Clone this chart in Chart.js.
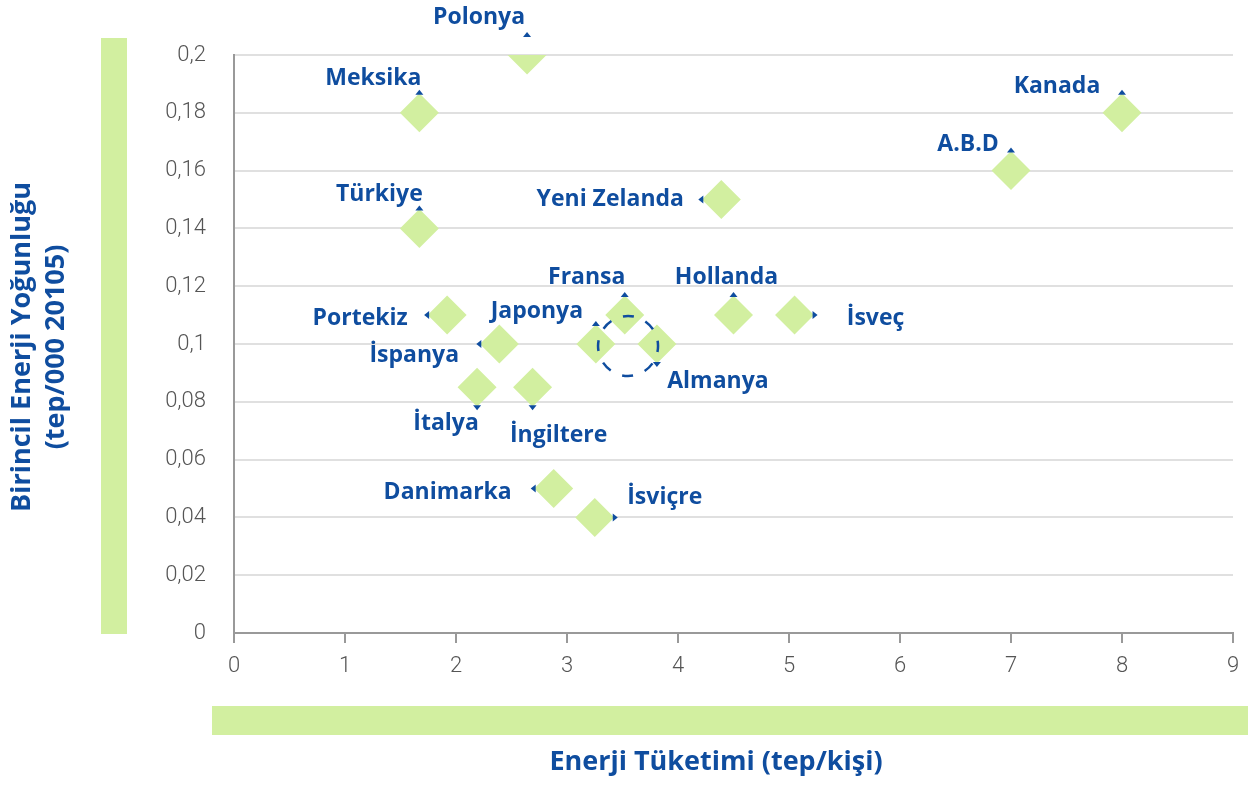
<!DOCTYPE html>
<html lang="tr">
<head>
    <meta charset="UTF-8">
    <title>Enerji Tüketimi ve Birincil Enerji Yoğunluğu</title>
    <script src="https://cdn.jsdelivr.net/npm/chart.js"></script>
    <style>
        body { margin: 0; background: #fff; }
        #wrap { width: 1253px; height: 785px; position: relative; }
    </style>
</head>
<body>
<div id="wrap"><canvas id="grafik"></canvas></div>
<script>
// ulkeler ve degerler
const ulkeler = ['Polonya', 'Meksika', 'Türkiye', 'Kanada', 'A.B.D', 'Yeni Zelanda', 'Portekiz', 'Fransa',
    'Hollanda', 'İsveç', 'Japonya', 'İspanya', 'Almanya', 'İtalya', 'İngiltere', 'Danimarka', 'İsviçre'];
const tuketim = [2.64, 1.67, 1.67, 8.0, 7.0, 4.39, 1.92, 3.52, 4.5, 5.05, 3.26, 2.39, 3.81, 2.19, 2.69, 2.88, 3.25];
const yogunluk = [0.2, 0.18, 0.14, 0.18, 0.16, 0.15, 0.11, 0.11, 0.11, 0.11, 0.1, 0.1, 0.1, 0.085, 0.085, 0.05, 0.04];
const xEtiketleri = ['0', '1', '2', '3', '4', '5', '6', '7', '8', '9'];
const yEtiketleri = ['0', '0,02', '0,04', '0,06', '0,08', '0,1', '0,12', '0,14', '0,16', '0,18', '0,2'];

// etiket yerlesimi: [dx, dy, ok yonu]
const etiketYeri = [
    [-48, -38, 'up'], [-46, -34, 'up'], [-40, -34, 'up'], [-65, -26, 'up'], [-43, -26, 'up'],
    [-111, 0, 'left'], [-87, 3, 'left'], [-38, -38, 'up'], [-7, -38, 'up'], [81, 3, 'right'],
    [-59, -33, 'up'], [-85, 11, 'left'], [61, 37, 'down'], [-31, 36, 'down'], [26, 48, 'down'],
    [-106, 4, 'left'], [70, -20, 'right']
];

const YESIL = '#d2efa0';
const MAVI = '#0f4d9f';
const FONT = '"Open Sans", "DejaVu Sans", sans-serif';
const TICKFONT = 'Roboto, "DejaVu Sans", sans-serif';

const sus = {
    id: 'sus',
    beforeDraw(chart) {
        const ctx = chart.ctx, a = chart.chartArea;
        ctx.save();
        ctx.fillStyle = YESIL;
        ctx.fillRect(101, a.top - 17, 26, a.bottom - a.top + 18);
        ctx.fillRect(212, 706, 1036, 29);
        ctx.restore();
    },
    afterDraw(chart) {
        const ctx = chart.ctx;
        const meta = chart.getDatasetMeta(0);
        ctx.save();
        // eksen basliklari
        ctx.fillStyle = MAVI;
        ctx.font = 'bold 27px ' + FONT;
        ctx.textAlign = 'center';
        ctx.textBaseline = 'middle';
        ctx.fillText('Enerji Tüketimi (tep/kişi)', 716, 762);
        ctx.save();
        ctx.translate(22, 347);
        ctx.rotate(-Math.PI / 2);
        ctx.fillText('Birincil Enerji Yoğunluğu', 0, 0);
        ctx.restore();
        ctx.save();
        ctx.translate(56, 347);
        ctx.rotate(-Math.PI / 2);
        ctx.fillText('(tep/000 20105)', 0, 0);
        ctx.restore();

        // veri etiketleri ve oklar
        ctx.font = 'bold 23px ' + FONT;
        meta.data.forEach((p, i) => {
            const [dx, dy, yon] = etiketYeri[i];
            ctx.fillStyle = MAVI;
            ctx.fillText(ulkeler[i], p.x + dx, p.y + dy);
            ctx.beginPath();
            const d = 20, s = 4;
            if (yon === 'up') {
                ctx.moveTo(p.x - s, p.y - d + 2); ctx.lineTo(p.x + s, p.y - d + 2); ctx.lineTo(p.x, p.y - d - 3);
            } else if (yon === 'down') {
                ctx.moveTo(p.x - s, p.y + d - 2); ctx.lineTo(p.x + s, p.y + d - 2); ctx.lineTo(p.x, p.y + d + 3);
            } else if (yon === 'left') {
                ctx.moveTo(p.x - d + 2, p.y - s); ctx.lineTo(p.x - d + 2, p.y + s); ctx.lineTo(p.x - d - 3, p.y);
            } else {
                ctx.moveTo(p.x + d - 2, p.y - s); ctx.lineTo(p.x + d - 2, p.y + s); ctx.lineTo(p.x + d + 3, p.y);
            }
            ctx.closePath();
            ctx.fill();
        });

        // Fransa, Japonya, Almanya grubu etrafindaki kesikli daire
        const cx = chart.scales.x.getPixelForValue(3.55);
        const cy = chart.scales.y.getPixelForValue(0.1) + 2;
        ctx.strokeStyle = MAVI;
        ctx.lineWidth = 2.5;
        ctx.setLineDash([11, 12.5]);
        ctx.lineDashOffset = 5;
        ctx.beginPath();
        ctx.arc(cx, cy, 30, 0, Math.PI * 2);
        ctx.stroke();
        ctx.restore();
    }
};

new Chart(document.getElementById('grafik'), {
    type: 'scatter',
    data: {
        datasets: [{
            label: 'Ülkeler',
            data: tuketim.map((x, i) => ({ x: x, y: yogunluk[i] })),
            pointStyle: 'rectRot',
            pointRadius: 19.5,
            pointHoverRadius: 19.5,
            backgroundColor: YESIL,
            borderWidth: 0
        }]
    },
    options: {
        responsive: true,
        maintainAspectRatio: false,
        animation: false,
        layout: { padding: { left: 0, top: 55, right: 20, bottom: 0 } },
        plugins: { legend: { display: false }, tooltip: { enabled: false } },
        scales: {
            x: {
                type: 'linear',
                min: 0,
                max: 9,
                afterFit(s) { s.height = 152; },
                ticks: {
                    stepSize: 1,
                    padding: 10,
                    color: '#555',
                    font: { family: TICKFONT, size: 22, weight: '300' },
                    callback: (v, i) => xEtiketleri[i]
                },
                grid: { drawOnChartArea: false, tickLength: 10, color: '#999', lineWidth: 2 },
                border: { color: '#999', width: 2 }
            },
            y: {
                min: 0,
                max: 0.2,
                afterFit(s) { s.width = 234; },
                ticks: {
                    stepSize: 0.02,
                    padding: 28,
                    color: '#555',
                    font: { family: TICKFONT, size: 22, weight: '300' },
                    callback: (v, i) => yEtiketleri[i]
                },
                grid: { drawTicks: false, color: '#e0e0e0', lineWidth: 2 },
                border: { color: '#999', width: 2 }
            }
        }
    },
    plugins: [sus]
});
</script>
</body>
</html>
